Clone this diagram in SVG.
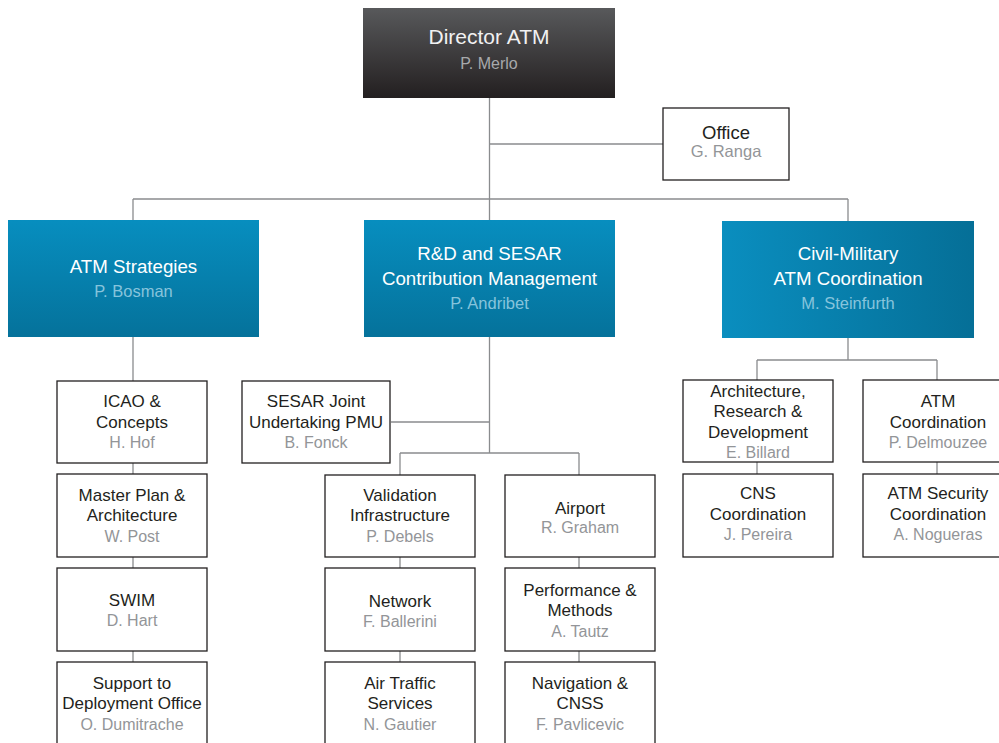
<svg xmlns="http://www.w3.org/2000/svg" width="999" height="743" viewBox="0 0 999 743">
<defs>
<linearGradient id="gDir" x1="0" y1="0" x2="0" y2="1"><stop offset="0" stop-color="#58595b"/><stop offset="1" stop-color="#231f20"/></linearGradient>
<linearGradient id="gBlue" x1="0" y1="0" x2="0" y2="1"><stop offset="0" stop-color="#078ebf"/><stop offset="1" stop-color="#05729b"/></linearGradient>
<linearGradient id="gBlueH" x1="0" y1="0" x2="1" y2="0"><stop offset="0" stop-color="#0a8ebf"/><stop offset="1" stop-color="#056f97"/></linearGradient>
<style>
.box{fill:#ffffff;stroke:#231f20;stroke-width:1.3}
.t{font-family:"Liberation Sans",Arial,sans-serif;text-anchor:middle}
.tt{font-size:17px;fill:#231f20}
.nm{font-size:16px;fill:#939598}
.bt{font-size:18.7px;fill:#ffffff}
.bn{font-size:16.5px;fill:#86c4dc}
.con{fill:none;stroke:#8a8c8e;stroke-width:1.3}
</style>
</defs>
<g id="connectors" class="con">
<path d="M489.5 98V220M489.5 144H663M133 199H848M133 199V220M848 199V221"/>
<path d="M133 337V381M133 463V474M133 557V568M133 651V662"/>
<path d="M489.5 337V453M391 422H489.5M400 453H579M400 453V475M579 453V475M400 557V568M400 651V662M579 557V568M579 651V662"/>
<path d="M848 338V360M757 360H937M757 360V380M937 360V380M757 462V474M937 462V474"/>
</g>
<g id="director">
<rect x="363" y="8" width="252" height="90" fill="url(#gDir)"/>
<text class="t" x="489" y="44" font-size="21" fill="#f1f1f2">Director ATM</text>
<text class="t" x="489" y="69" font-size="16" fill="#a7a9ac">P. Merlo</text>
</g>
<g id="office">
<rect class="box" x="663" y="108" width="126" height="72"/>
<text class="t tt" x="726" y="139" style="font-size:18.5px">Office</text>
<text class="t nm" x="726" y="157" style="font-size:16.5px">G. Ranga</text>
</g>
<g id="atm-strategies">
<rect x="8" y="220" width="251" height="117" fill="url(#gBlue)"/>
<text class="t bt" x="133.5" y="273">ATM Strategies</text>
<text class="t bn" x="133.5" y="297">P. Bosman</text>
</g>
<g id="rd-sesar">
<rect x="364" y="220" width="251" height="117" fill="url(#gBlue)"/>
<text class="t bt" x="489.5" y="260">R&amp;D and SESAR</text>
<text class="t bt" x="489.5" y="285">Contribution Management</text>
<text class="t bn" x="489.5" y="309">P. Andribet</text>
</g>
<g id="civil-military">
<rect x="722" y="221" width="252" height="117" fill="url(#gBlueH)"/>
<text class="t bt" x="848" y="260">Civil-Military</text>
<text class="t bt" x="848" y="285">ATM Coordination</text>
<text class="t bn" x="848" y="309">M. Steinfurth</text>
</g>
<g id="icao">
<rect class="box" x="57" y="381" width="150" height="82"/>
<text class="t tt" x="132" y="407">ICAO &amp;</text>
<text class="t tt" x="132" y="427.5">Concepts</text>
<text class="t nm" x="132" y="448">H. Hof</text>
</g>
<g id="master-plan">
<rect class="box" x="57" y="474" width="150" height="83"/>
<text class="t tt" x="132" y="500.5">Master Plan &amp;</text>
<text class="t tt" x="132" y="521">Architecture</text>
<text class="t nm" x="132" y="541.5">W. Post</text>
</g>
<g id="swim">
<rect class="box" x="57" y="568" width="150" height="83"/>
<text class="t tt" x="132" y="606">SWIM</text>
<text class="t nm" x="132" y="625.5">D. Hart</text>
</g>
<g id="support-deployment">
<rect class="box" x="57" y="662" width="150" height="84"/>
<text class="t tt" x="132" y="688.5">Support to</text>
<text class="t tt" x="132" y="709">Deployment Office</text>
<text class="t nm" x="132" y="729.5">O. Dumitrache</text>
</g>
<g id="sesar-ju">
<rect class="box" x="242" y="381" width="148" height="82"/>
<text class="t tt" x="316" y="407">SESAR Joint</text>
<text class="t tt" x="316" y="427.5">Undertaking PMU</text>
<text class="t nm" x="316" y="448">B. Fonck</text>
</g>
<g id="validation">
<rect class="box" x="325" y="475" width="150" height="82"/>
<text class="t tt" x="400" y="500.5">Validation</text>
<text class="t tt" x="400" y="521">Infrastructure</text>
<text class="t nm" x="400" y="541.5">P. Debels</text>
</g>
<g id="airport">
<rect class="box" x="505" y="475" width="150" height="82"/>
<text class="t tt" x="580" y="514">Airport</text>
<text class="t nm" x="580" y="533">R. Graham</text>
</g>
<g id="network">
<rect class="box" x="325" y="568" width="150" height="83"/>
<text class="t tt" x="400" y="607">Network</text>
<text class="t nm" x="400" y="627">F. Ballerini</text>
</g>
<g id="performance">
<rect class="box" x="505" y="568" width="150" height="83"/>
<text class="t tt" x="580" y="595.5">Performance &amp;</text>
<text class="t tt" x="580" y="616">Methods</text>
<text class="t nm" x="580" y="636.5">A. Tautz</text>
</g>
<g id="air-traffic">
<rect class="box" x="325" y="662" width="150" height="84"/>
<text class="t tt" x="400" y="688.5">Air Traffic</text>
<text class="t tt" x="400" y="709">Services</text>
<text class="t nm" x="400" y="729.5">N. Gautier</text>
</g>
<g id="navigation">
<rect class="box" x="505" y="662" width="150" height="84"/>
<text class="t tt" x="580" y="688.5">Navigation &amp;</text>
<text class="t tt" x="580" y="709">CNSS</text>
<text class="t nm" x="580" y="729.5">F. Pavlicevic</text>
</g>
<g id="architecture-rd">
<rect class="box" x="683" y="380" width="150" height="82"/>
<text class="t tt" x="758" y="397">Architecture,</text>
<text class="t tt" x="758" y="417">Research &amp;</text>
<text class="t tt" x="758" y="437.5">Development</text>
<text class="t nm" x="758" y="457.5">E. Billard</text>
</g>
<g id="atm-coordination">
<rect class="box" x="863" y="380" width="150" height="82"/>
<text class="t tt" x="938" y="407">ATM</text>
<text class="t tt" x="938" y="427.5">Coordination</text>
<text class="t nm" x="938" y="448">P. Delmouzee</text>
</g>
<g id="cns-coordination">
<rect class="box" x="683" y="474" width="150" height="83"/>
<text class="t tt" x="758" y="499">CNS</text>
<text class="t tt" x="758" y="519.5">Coordination</text>
<text class="t nm" x="758" y="540">J. Pereira</text>
</g>
<g id="atm-security">
<rect class="box" x="863" y="474" width="150" height="83"/>
<text class="t tt" x="938" y="499">ATM Security</text>
<text class="t tt" x="938" y="519.5">Coordination</text>
<text class="t nm" x="938" y="540">A. Nogueras</text>
</g>
</svg>
